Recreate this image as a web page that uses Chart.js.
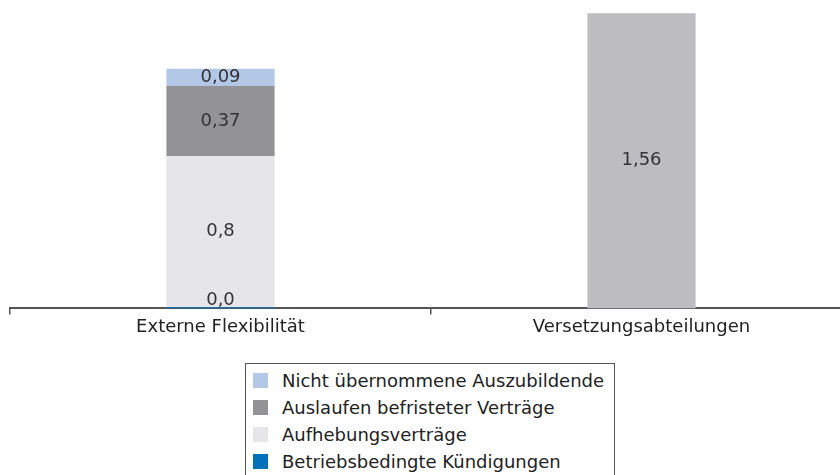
<!DOCTYPE html>
<html>
<head>
<meta charset="utf-8">
<script src="https://cdn.jsdelivr.net/npm/chart.js@4"></script>
<style>
    body { margin: 0; width: 840px; height: 475px; overflow: hidden; background: #fff; position: relative; font-family: "DejaVu Sans", sans-serif; }
    #myChart { position: absolute; left: 0; top: 0; }
    #legend { position: absolute; left: 245px; top: 363px; width: 370px; height: 130px; border: 1px solid #555; box-sizing: border-box; padding-top: 3px; }
    .item { height: 27px; display: flex; align-items: center; font-size: 18px; color: #222; }
    .box { width: 15px; height: 15px; margin: 0 14px 0 7px; }
</style>
</head>
<body>
<canvas id="myChart" width="862" height="340"></canvas>
<div id="legend"></div>
<script>
var categories = ["Externe Flexibilität", "Versetzungsabteilungen"];

// bottom to top in the stack
var kuendigungen = [0.006, null];
var aufhebung = [0.8, null];
var auslaufen = [0.37, null];
var azubis = [0.09, null];
var versetzung = [null, 1.56];

var colorChartScheme = {
    kuendigungen: "#0070b8",
    aufhebung: "#e6e6e8",
    auslaufen: "#939396",
    azubis: "#b3c7e7",
    versetzung: "#bdbdc1",
};

function fmt(v) {
    if (v < 0.01) return "0,0";
    return String(v).replace(".", ",");
}

var valueLabels = {
    id: "valueLabels",
    afterDatasetsDraw: function (chart) {
        var c = chart.ctx;
        c.save();
        c.font = "18px 'DejaVu Sans'";
        c.fillStyle = "#333";
        c.textAlign = "center";
        c.textBaseline = "middle";
        chart.data.datasets.forEach(function (ds, i) {
            var meta = chart.getDatasetMeta(i);
            meta.data.forEach(function (bar, j) {
                var v = ds.data[j];
                if (v === null || v === undefined) return;
                var y = (bar.y + bar.base) / 2;
                if (v < 0.01) y = bar.base - 8;
                c.fillText(fmt(v), bar.x, y);
            });
        });
        c.restore();
    }
};

function makeSet(label, data, color, inLegend) {
    return {
        label: label,
        data: data,
        backgroundColor: color,
        borderWidth: 0,
        barPercentage: 0.257,
        categoryPercentage: 1,
        inLegend: inLegend,
    };
}

var ctx = document.getElementById("myChart").getContext("2d");
var myChart = new Chart(ctx, {
    type: "bar",
    data: {
        labels: categories,
        datasets: [
            makeSet("Betriebsbedingte Kündigungen", kuendigungen, colorChartScheme.kuendigungen, true),
            makeSet("Aufhebungsverträge", aufhebung, colorChartScheme.aufhebung, true),
            makeSet("Auslaufen befristeter Verträge", auslaufen, colorChartScheme.auslaufen, true),
            makeSet("Nicht übernommene Auszubildende", azubis, colorChartScheme.azubis, true),
            makeSet("Versetzungsabteilungen", versetzung, colorChartScheme.versetzung, false),
        ],
    },
    options: {
        responsive: false,
        animation: false,
        devicePixelRatio: 1,
        layout: { padding: { left: 10, right: 10, top: 0, bottom: 0 } },
        plugins: {
            legend: { display: false },
            tooltip: { enabled: false },
        },
        scales: {
            x: {
                stacked: true,
                offset: true,
                grid: { offset: true, drawOnChartArea: false, tickLength: 6, color: "#555", lineWidth: 1.5 },
                border: { color: "#555", width: 2 },
                ticks: { color: "#222", font: { family: "'DejaVu Sans'", size: 18 }, padding: 2 },
            },
            y: {
                stacked: true,
                display: false,
                min: 0,
                max: 1.63,
            },
        },
    },
    plugins: [valueLabels],
});

// legend, top of stack first
var legend = document.getElementById("legend");
myChart.data.datasets.slice().reverse().forEach(function (ds) {
    if (!ds.inLegend) return;
    var item = document.createElement("div");
    item.className = "item";
    var box = document.createElement("span");
    box.className = "box";
    box.style.background = ds.backgroundColor;
    item.appendChild(box);
    item.appendChild(document.createTextNode(ds.label));
    legend.appendChild(item);
});
</script>
</body>
</html>
